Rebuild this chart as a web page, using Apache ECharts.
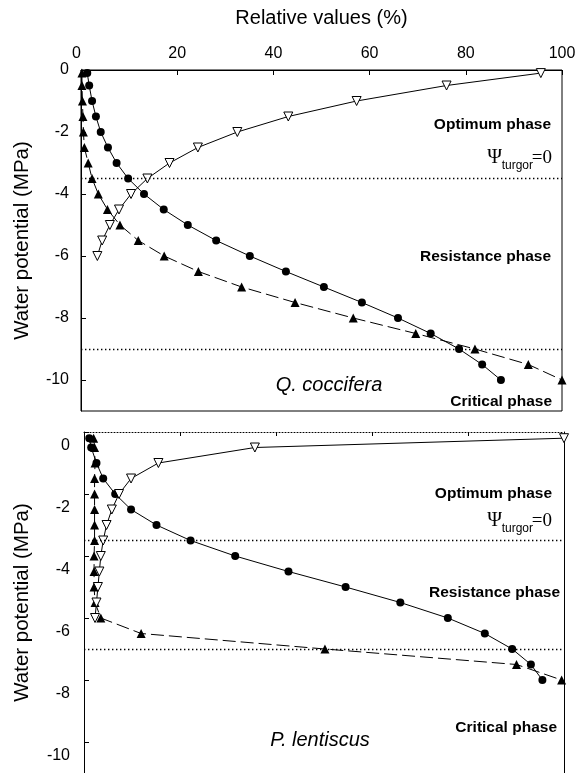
<!DOCTYPE html>
<html><head><meta charset="utf-8">
<script src="https://cdn.jsdelivr.net/npm/echarts@6/dist/echarts.min.js"></script>
<style>html,body{margin:0;padding:0;background:#fff}#c{width:583px;height:773px}</style>
</head><body><div id="c"></div>
<script>
// ---- tick labels ----
const yTickValues = [0, -2, -4, -6, -8, -10];

// ---- Q. coccifera (top panel) ----
const qcPsi = [-0.1, -0.5, -1, -1.5, -2, -2.5, -3, -3.5, -4, -4.5, -5, -5.5, -6, -6.5, -7, -7.5, -8, -8.5, -9, -9.5, -10];
const qcCircle = [1.3, 1.7, 2.3, 3.1, 4.1, 5.6, 7.4, 9.8, 13.1, 17.2, 22.2, 28.1, 35.1, 42.6, 50.5, 58.4, 65.9, 72.7, 78.6, 83.4, 87.3];
const qcTriangle = [0.2, 0.2, 0.3, 0.4, 0.5, 0.7, 1.5, 2.3, 3.6, 5.5, 8.1, 11.9, 17.3, 24.4, 33.4, 44.5, 56.6, 69.6, 81.9, 93, 100];
const qcOpenPsi = [-0.1, -0.5, -1, -1.5, -2, -2.5, -3, -3.5, -4, -4.5, -5, -5.5, -6];
const qcOpen = [95.6, 76, 57.3, 43.1, 32.5, 24.3, 18.4, 13.8, 10.4, 7.9, 6.0, 4.4, 3.4];
const qcPhaseLines = [-3.5, -9];

// ---- P. lentiscus (bottom panel) ----
const plPsi = [-0.2, -0.5, -1, -1.5, -2, -2.5, -3, -3.5, -4, -4.5, -5, -5.5, -6, -6.5, -7, -7.5, -8];
const plCircle = [1.1, 1.5, 2.6, 4.0, 6.5, 9.8, 15.1, 22.2, 31.5, 42.6, 54.5, 65.9, 75.8, 83.5, 89.2, 93.1, 95.5];
const plTriangle = [2.0, 2.2, 2.3, 2.2, 2.2, 2.2, 2.2, 2.2, 2.1, 2.1, 2.1, 2.3, 3.5, 11.9, 50.2, 90.1, 99.5];
const plOpenPsi = [-0.2, -0.5, -1, -1.5, -2, -2.5, -3, -3.5, -4, -4.5, -5, -5.5, -6];
const plOpen = [100, 35.6, 15.5, 9.8, 7.3, 5.8, 4.7, 4.0, 3.5, 3.2, 2.9, 2.6, 2.3];
const plPhaseLines = [-3.5, -7];

// ---- texts ----
const xAxisTitle = 'Relative values (%)';
const yAxisTitle = 'Water potential (MPa)';
const phaseLabels = ['Optimum phase', 'Resistance phase', 'Critical phase'];
const speciesNames = ['Q. coccifera', 'P. lentiscus'];
const turgorParts = ['Ψ', 'turgor', '=0'];

const SANS = '"Liberation Sans", Arial, Helvetica, sans-serif';
const SERIF = '"Liberation Serif", "Times New Roman", serif';

function pairs(xs, ys) { return xs.map((x, i) => [x, ys[i]]); }

function lineSeries(gi, xs, ys, kind, phaseLines) {
  const s = {
    type: 'line', xAxisIndex: gi, yAxisIndex: gi, data: pairs(xs, ys),
    clip: false, animation: false, silent: true
  };
  if (kind === 'circle') {
    Object.assign(s, { symbol: 'circle', symbolSize: 8, itemStyle: { color: '#000' }, lineStyle: { color: '#000', width: 1 } });
  } else if (kind === 'tri') {
    Object.assign(s, { symbol: 'triangle', symbolSize: 9, itemStyle: { color: '#000' }, lineStyle: { color: '#000', width: 1, type: [13, 5] } });
  } else {
    Object.assign(s, { symbol: 'triangle', symbolRotate: 180, symbolSize: 9, z: 3,
      itemStyle: { color: '#fff', borderColor: '#000', borderWidth: 1 }, lineStyle: { color: '#000', width: 1 } });
  }
  if (phaseLines) {
    s.markLine = { silent: true, symbol: 'none', animation: false, label: { show: false },
      lineStyle: { color: '#000', width: 1.4, type: [1.4, 2.6] },
      data: phaseLines.map(v => ({ yAxis: v })) };
  }
  return s;
}

function yAx(gi, margin, shifted) {
  const label = { customValues: yTickValues, color: '#000', fontSize: 16, fontFamily: SANS, margin: margin };
  if (shifted) { label.verticalAlign = 'top'; label.lineHeight = 28; }
  return {
    type: 'value', gridIndex: gi, min: -11, max: 0, position: 'left',
    axisLine: { show: true, onZero: false, lineStyle: { color: '#000', width: 1 } },
    axisTick: { show: true, inside: true, length: 5, customValues: yTickValues, lineStyle: { color: '#000' } },
    axisLabel: label,
    splitLine: { show: false },
    name: yAxisTitle, nameLocation: 'middle', nameGap: gi === 0 ? 48 : 51,
    nameTextStyle: { color: '#000', fontSize: 20.5, fontFamily: SANS }
  };
}

function txt(x, y, text, font, align) {
  return { type: 'text', x: x, y: y, z: 100, silent: true,
    style: { text: text, font: font, fill: '#000', align: align || 'right', verticalAlign: 'middle',
      textAlign: align || 'right', textVerticalAlign: 'middle' } };
}
const BOLD = 'bold 15.5px ' + SANS;
const ITAL = 'italic 20px ' + SANS;

function turgor(yPsi, ySub) {
  return [
    txt(502, yPsi, turgorParts[0], '20px ' + SERIF),
    txt(533, ySub, turgorParts[1], '12px ' + SANS),
    txt(552, yPsi, turgorParts[2], '19px ' + SERIF)
  ];
}

const chart = echarts.init(document.getElementById('c'), null, { renderer: 'canvas' });
chart.setOption({
  animation: false,
  backgroundColor: '#fff',
  grid: [
    { left: 81, top: 70, width: 481, height: 341, show: true, borderColor: '#000', borderWidth: 1, backgroundColor: 'transparent' },
    { left: 84, top: 432, width: 480, height: 341 }
  ],
  xAxis: [
    { type: 'value', gridIndex: 0, position: 'top', min: 0, max: 100, interval: 20,
      axisLine: { show: true, onZero: false, lineStyle: { color: '#000' } },
      axisTick: { show: true, inside: true, length: 5, lineStyle: { color: '#000' } },
      axisLabel: { color: '#000', fontSize: 16, fontFamily: SANS, margin: 8, alignMinLabel: 'right' },
      splitLine: { show: false },
      name: xAxisTitle, nameLocation: 'middle', nameGap: 42,
      nameTextStyle: { color: '#000', fontSize: 20, fontFamily: SANS } },
    { type: 'value', gridIndex: 1, position: 'top', min: 0, max: 100, interval: 20,
      axisLine: { show: true, onZero: false, lineStyle: { color: '#000', width: 1, type: [1, 2] } },
      axisTick: { show: true, inside: true, length: 4, lineStyle: { color: '#000' } },
      axisLabel: { show: false }, splitLine: { show: false } }
  ],
  yAxis: [
    yAx(0, 12, false),
    yAx(1, 14, true),
    { type: 'value', gridIndex: 1, min: -11, max: 0, position: 'right',
      axisLine: { show: true, onZero: false, lineStyle: { color: '#000' } },
      axisTick: { show: false }, axisLabel: { show: false }, splitLine: { show: false } }
  ],
  series: [
    lineSeries(0, qcCircle, qcPsi, 'circle', qcPhaseLines),
    lineSeries(0, qcTriangle, qcPsi, 'tri'),
    lineSeries(0, qcOpen, qcOpenPsi, 'open'),
    lineSeries(1, plCircle, plPsi, 'circle', plPhaseLines),
    lineSeries(1, plTriangle, plPsi, 'tri'),
    lineSeries(1, plOpen, plOpenPsi, 'open')
  ],
  graphic: [
    txt(551, 125, phaseLabels[0], BOLD),
    ...turgor(158, 166),
    txt(551, 257, phaseLabels[1], BOLD),
    txt(552, 402, phaseLabels[2], BOLD),
    txt(329, 385, speciesNames[0], ITAL, 'center'),
    txt(552, 494, phaseLabels[0], BOLD),
    ...turgor(521, 529),
    txt(560, 593, phaseLabels[1], BOLD),
    txt(557, 728, phaseLabels[2], BOLD),
    txt(320, 740, speciesNames[1], ITAL, 'center')
  ]
});
</script>
</body></html>
